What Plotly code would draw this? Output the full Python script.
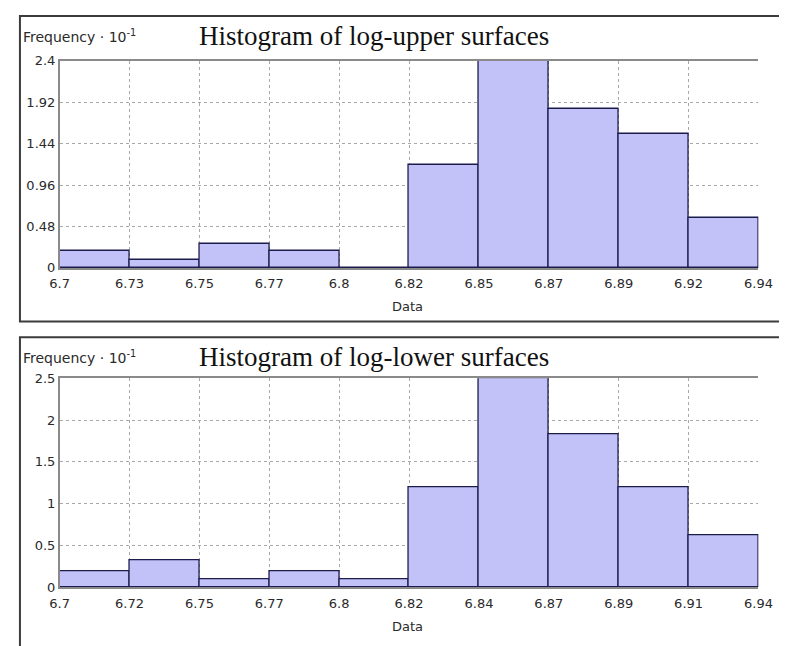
import plotly.graph_objects as go

# The page body has an 8px default margin, so the figure is sized to fit the window.
OFF = 8
W, H = 787 - OFF, 646 - OFF

# ---- data ----
edges = [6.7, 6.724, 6.748, 6.772, 6.796, 6.82, 6.844, 6.868, 6.892, 6.916, 6.94]
upper_ticktext = ["6.7", "6.73", "6.75", "6.77", "6.8", "6.82", "6.85", "6.87", "6.89", "6.92", "6.94"]
lower_ticktext = ["6.7", "6.72", "6.75", "6.77", "6.8", "6.82", "6.84", "6.87", "6.89", "6.91", "6.94"]
upper_freq = [0.2, 0.09, 0.28, 0.2, 0.0, 1.2, 2.4, 1.84, 1.55, 0.58]
lower_freq = [0.19, 0.32, 0.1, 0.19, 0.1, 1.2, 2.5, 1.83, 1.2, 0.62]
upper_yticks = [0, 0.48, 0.96, 1.44, 1.92, 2.4]
upper_yticktext = ["0", "0.48", "0.96", "1.44", "1.92", "2.4"]
lower_yticks = [0, 0.5, 1, 1.5, 2, 2.5]
lower_yticktext = ["0", "0.5", "1", "1.5", "2", "2.5"]
titles = ["Histogram of log-upper surfaces", "Histogram of log-lower surfaces"]
ylabel = "Frequency \u00b7 10<sup>-1</sup>"
xlabel = "Data"

centers = [(a + b) / 2 for a, b in zip(edges[:-1], edges[1:])]
widths = [b - a for a, b in zip(edges[:-1], edges[1:])]

BAR_FILL = "#c2c2f8"
BAR_LINE = "#1c1c4c"
GRID = "#a8a8a8"
AXIS = "#8a8a8a"
TEXTC = "#2a2a2a"
TICKFONT = dict(family="DejaVu Sans", size=13, color=TEXTC)


def fx(p):  # page pixel x -> paper
    return (p - OFF) / W


def fy(p):  # page pixel y -> paper
    return 1 - (p - OFF) / H


panels = [
    dict(freq=upper_freq, ticktext=upper_ticktext, yt=upper_yticks, ytt=upper_yticktext,
         ymax=2.4, top=55, bottom=267, box_top=9, box_bot=322,
         xa="x", ya="y", xname="xaxis", yname="yaxis"),
    dict(freq=lower_freq, ticktext=lower_ticktext, yt=lower_yticks, ytt=lower_yticktext,
         ymax=2.5, top=380, bottom=594, box_top=338, box_bot=700,
         xa="x2", ya="y2", xname="xaxis2", yname="yaxis2"),
]

fig = go.Figure()
for p in panels:
    fig.add_trace(go.Bar(
        x=centers, y=p["freq"], width=widths,
        marker=dict(color=BAR_FILL, line=dict(color=BAR_LINE, width=1.3)),
        xaxis=p["xa"], yaxis=p["ya"], showlegend=False, hoverinfo="x+y",
    ))

layout = dict(
    width=W, height=H,
    margin=dict(l=0, r=0, t=0, b=0),
    paper_bgcolor="white", plot_bgcolor="white",
    bargap=0, showlegend=False,
)

for p in panels:
    layout[p["xname"]] = dict(
        domain=[fx(51), fx(772)], range=[edges[0], edges[-1]],
        tickmode="array", tickvals=edges, ticktext=p["ticktext"],
        showgrid=True, gridcolor=GRID, griddash="dot", gridwidth=1,
        showline=True, linecolor=AXIS, linewidth=1.5, mirror=True,
        ticks="", tickfont=TICKFONT, zeroline=False, anchor=p["ya"],
        ticklabelstandoff=3,
    )
    layout[p["yname"]] = dict(
        domain=[fy(p["bottom"]), fy(p["top"])], range=[0, p["ymax"]],
        tickmode="array", tickvals=p["yt"], ticktext=p["ytt"],
        showgrid=True, gridcolor=GRID, griddash="dot", gridwidth=1,
        showline=True, linecolor=AXIS, linewidth=1.5,
        ticks="", tickfont=TICKFONT, zeroline=False, anchor=p["xa"],
    )

fig.update_layout(**layout)

annotations, shapes = [], []
for p, title in zip(panels, titles):
    shapes.append(dict(type="rect", xref="paper", yref="paper",
                       x0=fx(10), x1=fx(820), y0=fy(p["box_bot"]), y1=fy(p["box_top"]),
                       line=dict(color="#3c3c3c", width=2), fillcolor="rgba(0,0,0,0)",
                       layer="below"))
    annotations.append(dict(
        text=title, xref="paper", yref="paper", x=fx(193), y=fy(p["box_top"] + 20),
        xanchor="left", yanchor="middle", showarrow=False,
        font=dict(family="Liberation Serif", size=27, color="#111111"),
    ))
    annotations.append(dict(
        text=ylabel, xref="paper", yref="paper", x=fx(11), y=fy(p["box_top"] + 20),
        xanchor="left", yanchor="middle", showarrow=False,
        font=dict(family="DejaVu Sans", size=14, color=TEXTC),
    ))
    annotations.append(dict(
        text=xlabel, xref="paper", yref="paper", x=fx(410), y=fy(p["bottom"] + 40),
        xanchor="center", yanchor="middle", showarrow=False,
        font=dict(family="DejaVu Sans", size=13, color=TEXTC),
    ))

fig.update_layout(annotations=annotations, shapes=shapes)
fig.write_html("out.html")
